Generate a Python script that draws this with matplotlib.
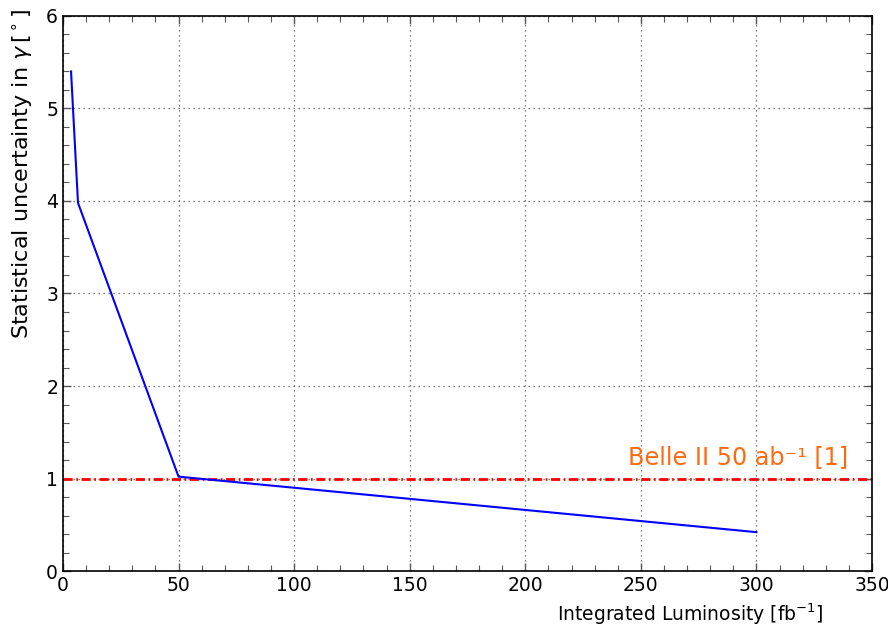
import matplotlib
matplotlib.use("Agg")
import matplotlib.pyplot as plt
from matplotlib.ticker import MultipleLocator

lumi = [3.5, 6.5, 50, 300]
sigma = [5.4, 3.98, 1.02, 0.42]
belle_level = 1.0
belle_label = "Belle II 50 ab\u207b\u00b9 [1]"

fig = plt.figure(figsize=(8.88, 6.27), dpi=100)
ax = fig.add_axes([0.0709, 0.0893, 0.9111, 0.8852])

ax.plot(lumi, sigma, color="blue", lw=1.5, zorder=3)
ax.axhline(belle_level, color="red", ls=(0, (3.3, 1.3, 0.6, 1.3)), lw=2, zorder=2)
ax.text(244.5, 1.1, belle_label, color="#ff6a10", fontsize=17.2,
        ha="left", va="bottom")

ax.set_xlim(0, 350)
ax.set_ylim(0, 6)
ax.xaxis.set_major_locator(MultipleLocator(50))
ax.xaxis.set_minor_locator(MultipleLocator(10))
ax.yaxis.set_major_locator(MultipleLocator(1))
ax.yaxis.set_minor_locator(MultipleLocator(0.2))
ax.tick_params(which="both", direction="in", top=True, right=True, labelsize=13.5,
               color="0.35")
ax.tick_params(which="major", length=6, width=1)
ax.tick_params(which="minor", length=4, width=0.8)
ax.grid(True, which="major", color="0.35", ls=(0, (1, 3)), lw=0.9)
for s in ax.spines.values():
    s.set_linewidth(1.2)

ax.set_xlabel("Integrated Luminosity [fb$^{-1}$]", fontsize=13.5)
ax.xaxis.set_label_coords(0.775, -0.055)
ax.set_ylabel("Statistical uncertainty in $\\gamma\\,[^\\circ]$", fontsize=16)
ax.yaxis.set_label_coords(-0.034, 0.715)

fig.savefig("out.png", dpi=100)
